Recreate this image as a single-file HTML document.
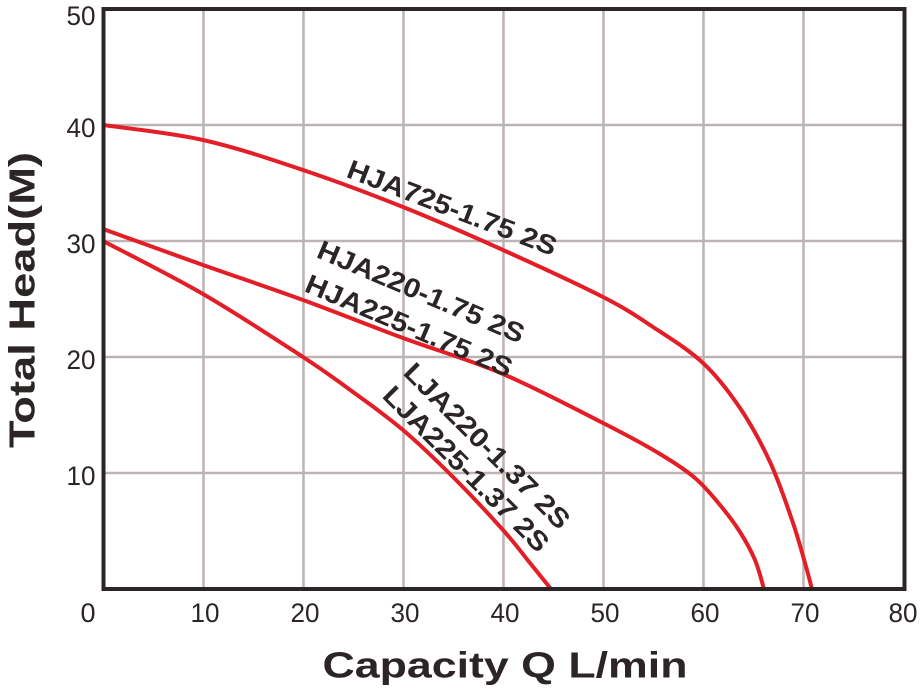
<!DOCTYPE html>
<html><head><meta charset="utf-8"><style>html,body{margin:0;padding:0;background:#fff}</style></head>
<body>
<svg width="920" height="689" viewBox="0 0 920 689" xmlns="http://www.w3.org/2000/svg" font-family="Liberation Sans, sans-serif">
<rect width="920" height="689" fill="#fff"/>
<g stroke="#bdb3b3" stroke-width="2.5">
<line x1="203.5" y1="9" x2="203.5" y2="589"/><line x1="303.5" y1="9" x2="303.5" y2="589"/>
<line x1="403.5" y1="9" x2="403.5" y2="589"/><line x1="503.5" y1="9" x2="503.5" y2="589"/>
<line x1="603.5" y1="9" x2="603.5" y2="589"/><line x1="703.5" y1="9" x2="703.5" y2="589"/>
<line x1="803.5" y1="9" x2="803.5" y2="589"/>
<line x1="103" y1="125" x2="905" y2="125"/><line x1="103" y1="241" x2="905" y2="241"/>
<line x1="103" y1="357" x2="905" y2="357"/><line x1="103" y1="473" x2="905" y2="473"/>
</g>
<g fill="none" stroke="#e41e26" stroke-width="4" stroke-linejoin="round">
<path id="c1" data-p="103,125 203,140 303,170 403,207 503,250 603,297 653,327 703,363 740,408 770,462 792,520 805,563 812,589"/>
<path id="c2" data-p="103,229 203,265 303,300 403,338 503,374 603,423 660,454 695,478 720,505 740,532 755,560 764,589"/>
<path id="c3" data-p="103,241 203,294 303,357 353,392 403,430 453,477 503,530 530,563 551,589"/>
</g>
<rect x="103.5" y="9" width="801" height="580" fill="none" stroke="#2b2525" stroke-width="4"/>
<g font-size="27" fill="#2b2525" text-anchor="middle">
<text x="81" y="25" textLength="29" lengthAdjust="spacingAndGlyphs">50</text>
<text x="81" y="137" textLength="29" lengthAdjust="spacingAndGlyphs">40</text>
<text x="81" y="253" textLength="29" lengthAdjust="spacingAndGlyphs">30</text>
<text x="81" y="369" textLength="29" lengthAdjust="spacingAndGlyphs">20</text>
<text x="81" y="485" textLength="29" lengthAdjust="spacingAndGlyphs">10</text>
<text x="88" y="622">0</text>
<text x="205" y="622" textLength="29" lengthAdjust="spacingAndGlyphs">10</text>
<text x="305" y="622" textLength="29" lengthAdjust="spacingAndGlyphs">20</text>
<text x="405" y="622" textLength="29" lengthAdjust="spacingAndGlyphs">30</text>
<text x="505" y="622" textLength="29" lengthAdjust="spacingAndGlyphs">40</text>
<text x="605" y="622" textLength="29" lengthAdjust="spacingAndGlyphs">50</text>
<text x="705" y="622" textLength="29" lengthAdjust="spacingAndGlyphs">60</text>
<text x="805" y="622" textLength="29" lengthAdjust="spacingAndGlyphs">70</text>
<text x="903" y="622" textLength="29" lengthAdjust="spacingAndGlyphs">80</text>
</g>
<g font-weight="bold" font-size="27" fill="#2b2525" text-anchor="middle" dominant-baseline="central">
<text transform="translate(452,208) rotate(21)" textLength="222" lengthAdjust="spacingAndGlyphs">HJA725-1.75 2S</text>
<text transform="translate(421,292) rotate(23)" textLength="222" lengthAdjust="spacingAndGlyphs">HJA220-1.75 2S</text>
<text transform="translate(409,326) rotate(23)" textLength="222" lengthAdjust="spacingAndGlyphs">HJA225-1.75 2S</text>
<text transform="translate(487,446) rotate(45)" textLength="222" lengthAdjust="spacingAndGlyphs">LJA220-1.37 2S</text>
<text transform="translate(466,469) rotate(45)" textLength="222" lengthAdjust="spacingAndGlyphs">LJA225-1.37 2S</text>
</g>
<text transform="translate(22,300) rotate(-90)" font-weight="bold" font-size="36" fill="#2b2525" text-anchor="middle" dominant-baseline="central" textLength="296" lengthAdjust="spacingAndGlyphs">Total Head(M)</text>
<text x="505" y="665" font-weight="bold" font-size="36" fill="#2b2525" text-anchor="middle" dominant-baseline="central" textLength="365" lengthAdjust="spacingAndGlyphs">Capacity Q L/min</text>
</svg>
<script>
['c1','c2','c3'].forEach(function(id){
  var el=document.getElementById(id);
  var p=el.getAttribute('data-p').trim().split(/\s+/).map(function(s){var a=s.split(',');return [+a[0],+a[1]];});
  var d='M'+p[0][0]+','+p[0][1];
  for(var i=0;i<p.length-1;i++){
    var p0=p[i-1]||p[i],p1=p[i],p2=p[i+1],p3=p[i+2]||p2;
    var c1x=p1[0]+(p2[0]-p0[0])/6,c1y=p1[1]+(p2[1]-p0[1])/6;
    var c2x=p2[0]-(p3[0]-p1[0])/6,c2y=p2[1]-(p3[1]-p1[1])/6;
    d+=' C'+c1x.toFixed(1)+','+c1y.toFixed(1)+' '+c2x.toFixed(1)+','+c2y.toFixed(1)+' '+p2[0]+','+p2[1];
  }
  el.setAttribute('d',d);
});
</script>
</body></html>
